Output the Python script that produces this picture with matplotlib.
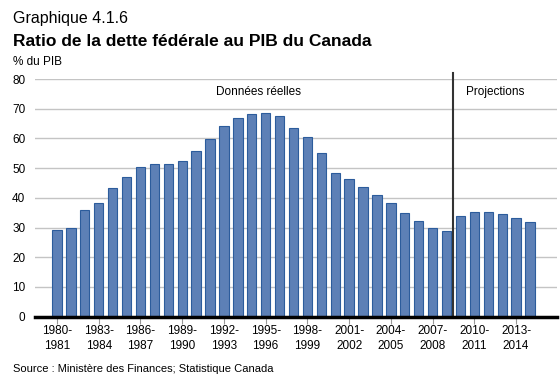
import matplotlib
matplotlib.use("Agg")
import matplotlib.pyplot as plt
import numpy as np

plt.rcParams['font.family'] = ['Liberation Sans', 'DejaVu Sans']

years = list(range(1980, 2015))
ratio = [29.1, 29.9, 35.9, 38.2, 43.2, 46.9, 50.3, 51.3, 51.3, 52.4,
         55.6, 59.8, 64.1, 67.0, 68.2, 68.5, 67.4, 63.4, 60.6, 55.0,
         48.2, 46.3, 43.7, 40.9, 38.2, 34.9, 32.1, 29.8, 28.8,
         33.8, 35.4, 35.1, 34.4, 33.1, 31.8]
tick_years = list(range(1980, 2015, 3))
tick_labels = [f"{y}-\n{y+1}" for y in tick_years]
yticks = [0, 10, 20, 30, 40, 50, 60, 70, 80]
n_actual = 29

fig = plt.figure(figsize=(5.6, 3.85), dpi=100)
ax = fig.add_axes([35/560, 1 - 316.7/385, (557-35)/560, (316.7-79)/385])

x = np.arange(len(years))
ax.bar(x, ratio, width=0.67, color='#5d80b6', edgecolor='#2c5c9c', linewidth=0.8, zorder=3)

ax.set_ylim(0, 80)
ax.set_xlim(-1.58, len(years) - 1 + 1.94)
ax.set_yticks(yticks)
ax.set_yticklabels([str(v) for v in yticks], fontsize=8.5)
ax.yaxis.grid(True, color='#c4c4c4', linewidth=1.0, zorder=0)
ax.set_axisbelow(True)
for s in ['top', 'right', 'left']:
    ax.spines[s].set_visible(False)
ax.spines['bottom'].set_color('black')
ax.spines['bottom'].set_linewidth(2.5)
ax.spines['bottom'].set_zorder(5)
ax.tick_params(axis='y', length=0, pad=7)

tick_pos = [years.index(y) for y in tick_years]
ax.set_xticks(tick_pos)
ax.set_xticklabels(tick_labels, fontsize=8.5, linespacing=1.3)
ax.tick_params(axis='x', length=5, width=0.8, color='#999999', pad=1)

# projection separator
xsep = n_actual - 0.5
ax.plot([xsep, xsep], [0, 82], color='#333333', linewidth=1.5, clip_on=False, zorder=4)

ax.text((n_actual - 1) / 2 + 0.5, 75.5, "Données réelles", ha='center', va='center', fontsize=8.5)
ax.text(31.5, 75.5, "Projections", ha='center', va='center', fontsize=8.5)

fig.text(13/560, 1 - 18/385, "Graphique 4.1.6", fontsize=11.5, va='center', ha='left')
fig.text(13/560, 1 - 41/385, "Ratio de la dette fédérale au PIB du Canada", fontsize=12.5,
         fontweight='bold', va='center', ha='left')
fig.text(13/560, 1 - 62/385, "% du PIB", fontsize=8.5, va='center', ha='left')
fig.text(13/560, 1 - 369/385, "Source : Ministère des Finances; Statistique Canada", fontsize=8,
         va='center', ha='left')

fig.savefig("out.png", dpi=100)
